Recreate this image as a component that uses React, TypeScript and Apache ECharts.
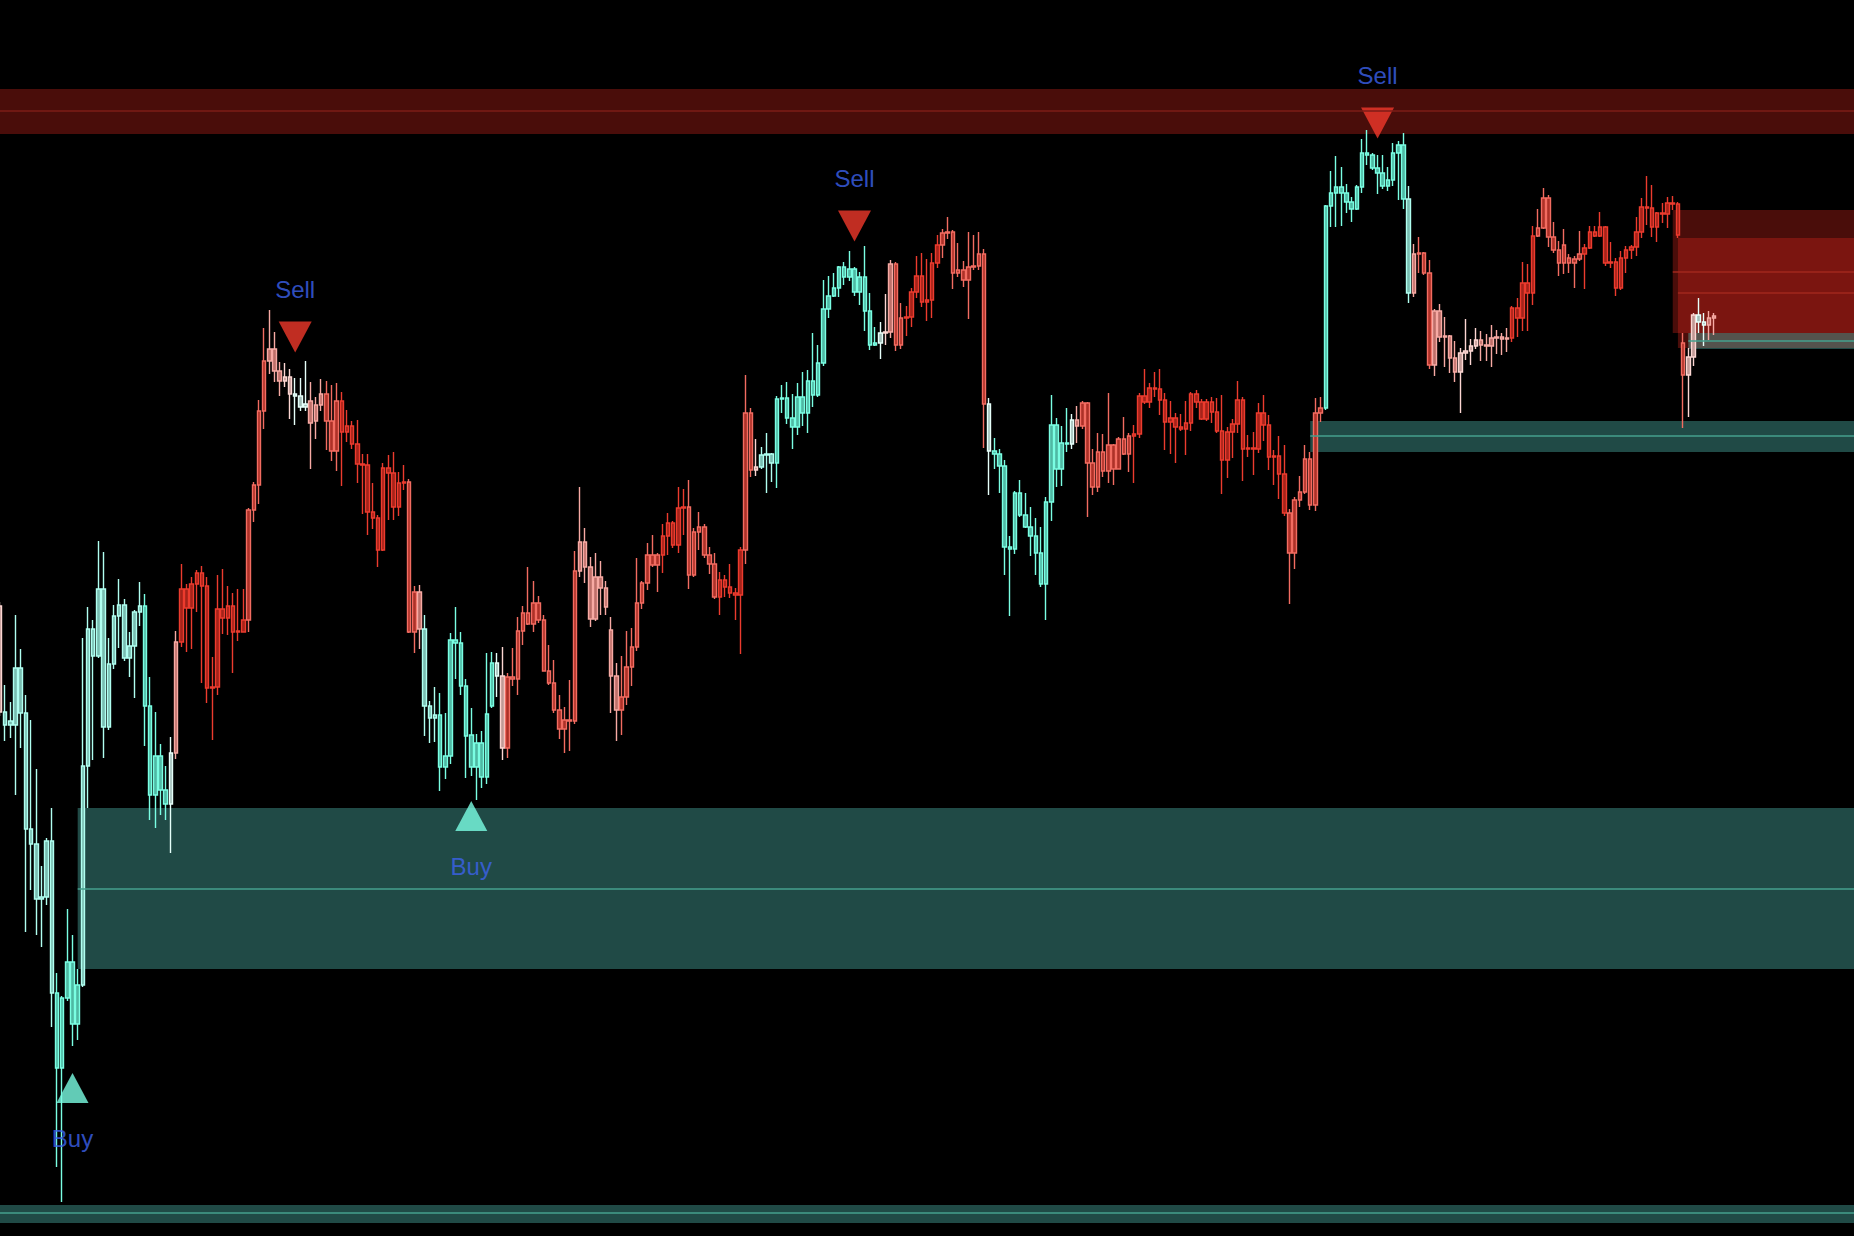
import React, { useEffect, useRef } from "react";
import * as echarts from "echarts";

// Each candle: [open, close, low, high]
const candles: number[][] = [
  [4630, 4524, 4520, 4634], [4524, 4511, 4495, 4551], [4511, 4515, 4498, 4534], [4511, 4568, 4441, 4621],
  [4568, 4523, 4488, 4587], [4523, 4407, 4304, 4541], [4407, 4392, 4346, 4516], [4392, 4337, 4301, 4467],
  [4337, 4339, 4289, 4370], [4339, 4395, 4331, 4398], [4395, 4243, 4209, 4428], [4243, 4168, 4069, 4263],
  [4168, 4238, 4034, 4240], [4238, 4274, 4235, 4327], [4274, 4212, 4190, 4301], [4212, 4251, 4196, 4267],
  [4251, 4470, 4249, 4598], [4470, 4607, 4428, 4629], [4607, 4580, 4476, 4616], [4580, 4647, 4578, 4695],
  [4647, 4509, 4478, 4684], [4509, 4572, 4506, 4598], [4572, 4620, 4567, 4631], [4620, 4631, 4588, 4657],
  [4631, 4578, 4575, 4637], [4578, 4590, 4559, 4604], [4590, 4624, 4538, 4626], [4624, 4630, 4610, 4654],
  [4630, 4530, 4490, 4642], [4530, 4441, 4416, 4559], [4441, 4480, 4408, 4524], [4480, 4446, 4421, 4492],
  [4446, 4432, 4416, 4470], [4432, 4483, 4383, 4499], [4483, 4594, 4477, 4605], [4594, 4647, 4589, 4672],
  [4647, 4628, 4584, 4652], [4628, 4652, 4587, 4659], [4652, 4663, 4624, 4666], [4663, 4650, 4553, 4670],
  [4650, 4548, 4533, 4659], [4548, 4549, 4496, 4579], [4549, 4627, 4541, 4661], [4627, 4618, 4602, 4667],
  [4618, 4630, 4601, 4650], [4630, 4604, 4563, 4643], [4604, 4605, 4595, 4647],
  [4604, 4616, 4604, 4647], [4616, 4726, 4604, 4728], [4726, 4751, 4714, 4754], [4751, 4825, 4732, 4836],
  [4825, 4875, 4807, 4908], [4875, 4887, 4862, 4926], [4887, 4865, 4854, 4904], [4865, 4855, 4840, 4874],
  [4855, 4859, 4849, 4873], [4859, 4842, 4817, 4867], [4842, 4840, 4811, 4858], [4840, 4829, 4825, 4858],
  [4829, 4832, 4825, 4875], [4813, 4835, 4767, 4854], [4815, 4831, 4797, 4839], [4831, 4842, 4825, 4857],
  [4842, 4815, 4786, 4855], [4815, 4785, 4775, 4851], [4785, 4835, 4765, 4853], [4835, 4804, 4750, 4844],
  [4804, 4810, 4794, 4826], [4810, 4792, 4787, 4815], [4792, 4772, 4753, 4816], [4772, 4771, 4722, 4782],
  [4771, 4724, 4701, 4782], [4724, 4718, 4707, 4753], [4718, 4686, 4669, 4721], [4686, 4768, 4685, 4773],
  [4768, 4763, 4716, 4781], [4763, 4729, 4716, 4784], [4729, 4753, 4720, 4764], [4753, 4754, 4746, 4771],
  [4754, 4604, 4603, 4757], [4604, 4644, 4583, 4650], [4644, 4607, 4587, 4651], [4607, 4530, 4500, 4621],
  [4530, 4518, 4493, 4535], [4518, 4521, 4494, 4549], [4521, 4469, 4445, 4543], [4469, 4480, 4457, 4523],
  [4480, 4596, 4472, 4603], [4596, 4593, 4557, 4629], [4593, 4550, 4541, 4604], [4550, 4500, 4458, 4557],
  [4501, 4469, 4460, 4528], [4469, 4493, 4436, 4502], [4493, 4459, 4448, 4505], [4459, 4522, 4452, 4583],
  [4530, 4573, 4528, 4584], [4573, 4560, 4539, 4583], [4560, 4488, 4476, 4589], [4488, 4559, 4478, 4563],
  [4559, 4557, 4550, 4588], [4557, 4605, 4541, 4619], [4605, 4623, 4591, 4630], [4623, 4612, 4611, 4669],
  [4612, 4633, 4604, 4655], [4633, 4616, 4613, 4640], [4616, 4565, 4565, 4621], [4565, 4553, 4551, 4591],
  [4553, 4526, 4523, 4576], [4526, 4507, 4497, 4541], [4507, 4516, 4483, 4529], [4516, 4515, 4485, 4556],
  [4515, 4665, 4512, 4685], [4665, 4694, 4659, 4749], [4694, 4669, 4653, 4708], [4669, 4617, 4609, 4679],
  [4617, 4659, 4615, 4683], [4659, 4648, 4621, 4675], [4648, 4629, 4621, 4655], [4606, 4560, 4523, 4619],
  [4560, 4526, 4495, 4573], [4526, 4539, 4501, 4580], [4539, 4569, 4531, 4605], [4569, 4589, 4550, 4608],
  [4589, 4633, 4585, 4678], [4633, 4653, 4627, 4655], [4653, 4681, 4646, 4693], [4681, 4671, 4669, 4701],
  [4671, 4681, 4644, 4683], [4681, 4700, 4663, 4712], [4700, 4713, 4681, 4723], [4713, 4691, 4688, 4715],
  [4691, 4728, 4683, 4749], [4728, 4729, 4701, 4747], [4729, 4661, 4647, 4756], [4661, 4704, 4659, 4708],
  [4704, 4709, 4686, 4724], [4709, 4681, 4678, 4712], [4681, 4672, 4662, 4689], [4672, 4639, 4637, 4683],
  [4639, 4656, 4621, 4664], [4656, 4649, 4639, 4661], [4649, 4643, 4638, 4672], [4643, 4641, 4616, 4648],
  [4641, 4686, 4582, 4689], [4686, 4823, 4672, 4861], [4823, 4766, 4759, 4828], [4766, 4769, 4760, 4797],
  [4769, 4781, 4767, 4789], [4781, 4782, 4743, 4803], [4782, 4773, 4754, 4783], [4773, 4837, 4748, 4840],
  [4837, 4838, 4823, 4851], [4838, 4818, 4812, 4854], [4818, 4809, 4787, 4842], [4809, 4839, 4801, 4853],
  [4839, 4823, 4810, 4864], [4823, 4855, 4803, 4866], [4855, 4841, 4829, 4903], [4841, 4873, 4839, 4891],
  [4873, 4927, 4870, 4956], [4927, 4940, 4918, 4960], [4940, 4948, 4939, 4963], [4948, 4969, 4939, 4970],
  [4969, 4959, 4951, 4974], [4959, 4967, 4955, 4985], [4967, 4944, 4940, 4969], [4944, 4959, 4931, 4964],
  [4959, 4925, 4905, 4990], [4925, 4891, 4886, 4943], [4891, 4893, 4890, 4909], [4893, 4903, 4877, 4914],
  [4903, 4904, 4891, 4942], [4904, 4972, 4898, 4976], [4972, 4891, 4885, 4974], [4891, 4918, 4887, 4933],
  [4918, 4919, 4900, 4930], [4919, 4944, 4909, 4948], [4944, 4960, 4938, 4980], [4960, 4934, 4929, 4983],
  [4934, 4936, 4915, 4977], [4936, 4973, 4918, 4983], [4973, 4991, 4968, 5001], [4991, 5003, 4978, 5007],
  [5003, 5004, 4997, 5019], [5004, 4963, 4947, 5006], [4963, 4966, 4959, 4993], [4966, 4956, 4949, 4975],
  [4956, 4969, 4917, 5004], [4969, 4970, 4966, 5001], [4970, 4982, 4966, 5004], [4982, 4832, 4788, 4987],
  [4832, 4785, 4741, 4838], [4785, 4782, 4767, 4798], [4782, 4770, 4743, 4787], [4770, 4689, 4661, 4776],
  [4689, 4687, 4620, 4700], [4687, 4743, 4682, 4745], [4743, 4721, 4719, 4756], [4721, 4709, 4708, 4743],
  [4709, 4700, 4680, 4729], [4700, 4683, 4661, 4718], [4683, 4652, 4649, 4709], [4652, 4734, 4616, 4739],
  [4734, 4811, 4715, 4841], [4811, 4767, 4749, 4818], [4767, 4793, 4750, 4810], [4793, 4792, 4784, 4828],
  [4792, 4816, 4787, 4822], [4816, 4810, 4793, 4830], [4810, 4833, 4807, 4835], [4833, 4773, 4719, 4834],
  [4773, 4749, 4741, 4787], [4749, 4784, 4744, 4803], [4784, 4765, 4759, 4802], [4765, 4791, 4753, 4843],
  [4791, 4767, 4751, 4792], [4767, 4797, 4767, 4799], [4797, 4782, 4781, 4819], [4782, 4800, 4764, 4803],
  [4800, 4802, 4753, 4811], [4802, 4840, 4798, 4843], [4840, 4834, 4832, 4867], [4834, 4848, 4828, 4853],
  [4848, 4847, 4839, 4864],
  [4847, 4836, 4821, 4867], [4836, 4814, 4786, 4843], [4814, 4818, 4782, 4835], [4818, 4809, 4773, 4823],
  [4809, 4807, 4805, 4822], [4807, 4813, 4781, 4835], [4813, 4842, 4805, 4844], [4842, 4834, 4828, 4846],
  [4834, 4817, 4816, 4837], [4817, 4834, 4815, 4837], [4834, 4824, 4813, 4839], [4824, 4805, 4803, 4838],
  [4805, 4776, 4742, 4841], [4776, 4804, 4758, 4809], [4804, 4812, 4778, 4817], [4812, 4836, 4803, 4855],
  [4836, 4787, 4755, 4839], [4787, 4788, 4779, 4801], [4788, 4787, 4761, 4804], [4787, 4823, 4783, 4833],
  [4823, 4811, 4795, 4841], [4811, 4779, 4766, 4821], [4779, 4780, 4751, 4786], [4780, 4762, 4737, 4800],
  [4762, 4723, 4720, 4791], [4723, 4683, 4632, 4727], [4683, 4736, 4667, 4739], [4736, 4744, 4729, 4760],
  [4744, 4777, 4742, 4791], [4777, 4731, 4726, 4784], [4731, 4823, 4725, 4838], [4823, 4828, 4814, 4839],
  [4828, 5030, 4826, 5031],
  [5030, 5043, 5009, 5065], [5043, 5049, 5009, 5080], [5049, 5043, 5010, 5069], [5043, 5034, 5023, 5052],
  [5034, 5027, 5014, 5039], [5027, 5049, 5026, 5051], [5049, 5083, 5043, 5097], [5083, 5081, 5071, 5106],
  [5081, 5068, 5066, 5083], [5068, 5063, 5042, 5081], [5063, 5050, 5047, 5081], [5050, 5056, 5045, 5069],
  [5056, 5083, 5050, 5093], [5083, 5091, 5036, 5095], [5091, 5037, 5027, 5103], [5037, 4943, 4933, 5050],
  [4943, 4982, 4939, 4992], [4982, 4983, 4963, 4999], [4983, 4963, 4961, 4984], [4963, 4871, 4867, 4976],
  [4871, 4925, 4860, 4927], [4925, 4899, 4894, 4932], [4899, 4900, 4869, 4919], [4900, 4878, 4863, 4901],
  [4878, 4864, 4854, 4895], [4864, 4883, 4823, 4888], [4883, 4885, 4876, 4917], [4885, 4890, 4871, 4897],
  [4890, 4896, 4887, 4908], [4896, 4891, 4875, 4905], [4891, 4890, 4875, 4902], [4890, 4898, 4869, 4911],
  [4898, 4899, 4882, 4906], [4899, 4897, 4881, 4903], [4897, 4898, 4884, 4908], [4898, 4928, 4894, 4930],
  [4928, 4918, 4899, 4938], [4918, 4953, 4905, 4974], [4953, 4943, 4905, 4972], [4943, 5000, 4931, 5010],
  [5000, 5008, 4999, 5027], [5008, 5038, 5007, 5048], [5038, 4999, 4989, 5041], [4999, 4986, 4983, 5014],
  [4986, 4973, 4960, 4995], [4973, 4991, 4962, 5007], [4978, 4973, 4963, 4982], [4973, 4977, 4948, 4980],
  [4977, 4982, 4975, 5005], [4982, 4988, 4947, 4992], [4988, 5004, 4987, 5010], [5004, 5000, 4999, 5010],
  [5000, 5009, 4999, 5024], [5009, 4973, 4970, 5010], [4973, 4974, 4968, 4994], [4974, 4948, 4940, 4978],
  [4948, 4978, 4946, 4985], [4978, 4986, 4963, 4990], [4986, 4989, 4977, 4991], [4989, 5004, 4980, 5019],
  [5004, 5029, 4998, 5038], [5029, 5028, 5011, 5060], [5028, 5009, 4999, 5051], [5009, 5023, 4994, 5024],
  [5023, 5022, 5013, 5033], [5022, 5033, 5008, 5039], [5033, 5032, 5026, 5040], [5032, 5001, 4998, 5034],
  [4893, 4861, 4808, 4903], [4861, 4879, 4819, 4888], [4879, 4921, 4870, 4923], [4921, 4914, 4903, 4938],
  [4914, 4911, 4890, 4923], [4911, 4918, 4896, 4925], [4918, 4920, 4901, 4923],
];

// Colour tone of each run of candles: [firstIndex, lastIndex, tone]
const toneRanges: number[][] = [
  [0, 0, 3], [1, 10, 1], [11, 15, 0], [16, 27, 1], [28, 32, 0], [33, 33, 2], [34, 34, 4],
  [35, 47, 6], [48, 51, 5], [52, 54, 4], [55, 56, 3], [57, 59, 2], [60, 62, 4], [63, 65, 5],
  [66, 78, 6], [79, 80, 5], [81, 81, 4], [82, 84, 1], [85, 95, 0], [96, 96, 2], [97, 97, 3],
  [98, 111, 5], [112, 119, 4], [120, 127, 5], [128, 132, 6], [133, 138, 5], [139, 143, 6],
  [144, 145, 5], [146, 146, 3], [147, 149, 1], [150, 169, 0], [170, 170, 2], [171, 171, 3],
  [172, 172, 4], [173, 174, 5], [175, 181, 6], [182, 190, 5], [191, 191, 2], [192, 206, 0],
  [207, 207, 2], [208, 208, 4], [209, 218, 5], [219, 248, 6], [249, 255, 5], [256, 271, 0],
  [272, 272, 1], [273, 273, 4], [274, 276, 5], [277, 281, 4], [282, 285, 3], [286, 291, 4],
  [292, 296, 6], [297, 305, 5], [306, 324, 6], [325, 325, 5], [326, 327, 3], [328, 329, 2],
  [330, 331, 4],
];

const tonePalette = ["#7afee3", "#b0fff1", "#e6fffa", "#fcd6d2", "#f7aaa4", "#f26c61", "#ec3b2e"];
const toneInner = ["#4fb8a3", "#78bcb0", "#a2bdb8", "#c09a96", "#bd6f69", "#ad3128", "#a5231a"];

const buySignals = [
  { index: 14, price: 4148 },
  { index: 91, price: 4420 },
];
const sellSignals = [
  { index: 57, price: 4899 },
  { index: 165, price: 5010 },
  { index: 266, price: 5113 },
];

// Supply / demand zones, drawn from a starting candle to the right edge
const zones = [
  { start: 0, high: 5147, low: 5102, mid: 5125, side: "supply" },
  { start: 0, high: 4031, low: 4013, mid: 4023, side: "demand" },
  { start: 15, high: 4428, low: 4267, mid: 4347, side: "demand" },
  { start: 253, high: 4815, low: 4784, mid: 4800, side: "demand" },
  { start: 323, high: 5026, low: 4903, mid: 4964, side: "supply" },
  { start: 324, high: 4998, low: 4888, mid: 4943, side: "supply" },
  { start: 326, high: 4903, low: 4887, mid: 4895, side: "demand" },
];

const SLOT_COUNT = 359;
const PRICE_MIN = 4000;
const PRICE_MAX = 5236;

function toneOf(i: number): number {
  for (const r of toneRanges) {
    if (i >= r[0] && i <= r[1]) return r[2];
  }
  return 6;
}

export default function App() {
  const ref = useRef<HTMLDivElement>(null);

  useEffect(() => {
    document.body.style.margin = "0";
    document.body.style.background = "#000";
    if (!ref.current) return;
    const chart = echarts.init(ref.current, undefined, { renderer: "svg" });

    const categories = Array.from({ length: SLOT_COUNT }, (_, i) => String(i));
    const lastCat = categories[SLOT_COUNT - 1];

    const candleData = candles.map((c, i) => {
      const t = toneOf(i);
      return {
        value: c,
        itemStyle: {
          color: toneInner[t],
          color0: tonePalette[t],
          borderColor: tonePalette[t],
          borderColor0: tonePalette[t],
        },
      };
    });

    const supplyFill = "rgba(226,40,30,0.33)";
    const demandFill = "rgba(110,255,240,0.29)";

    const areaData = zones.map((z) => [
      {
        xAxis: categories[z.start],
        yAxis: z.high,
        itemStyle: { color: z.side === "supply" ? supplyFill : demandFill },
      },
      { xAxis: lastCat, yAxis: z.low },
    ]);

    const lineData = zones.map((z) => [
      {
        coord: [categories[z.start], z.mid],
        lineStyle: {
          color: z.side === "supply" ? (z.start === 0 ? "#7e1d17" : "#a0271d") : "#45a08e",
          width: 1.5,
          type: "solid",
        },
      },
      { coord: [lastCat, z.mid] },
    ]);

    const labelFont = "'Liberation Sans', Arial, sans-serif";

    chart.setOption({
      animation: false,
      backgroundColor: "#000000",
      grid: { left: 0, right: 0, top: 0, bottom: 0, containLabel: false },
      xAxis: {
        type: "category",
        data: categories,
        boundaryGap: false,
        show: false,
      },
      yAxis: {
        type: "value",
        min: PRICE_MIN,
        max: PRICE_MAX,
        show: false,
        splitLine: { show: false },
      },
      series: [
        {
          name: "zones",
          type: "line",
          data: [],
          z: 1,
          silent: true,
          markArea: { silent: true, data: areaData },
          markLine: {
            silent: true,
            symbol: ["none", "none"],
            label: { show: false },
            data: lineData,
          },
        },
        {
          name: "price",
          type: "candlestick",
          z: 2,
          barWidth: 4,
          data: candleData,
          itemStyle: { borderWidth: 1.4 },
        },
        {
          name: "buy",
          type: "scatter",
          z: 3,
          symbol: "triangle",
          symbolSize: [32, 30],
          itemStyle: { color: "#7afee3" },
          label: {
            show: true,
            position: "bottom",
            distance: 23,
            formatter: "Buy",
            color: "#3d63f0",
            fontSize: 24,
            fontFamily: labelFont,
          },
          data: buySignals.map((s) => [categories[s.index], s.price]),
        },
        {
          name: "sell",
          type: "scatter",
          z: 3,
          symbol: "path://M0,0 L32,0 L16,30 Z",
          symbolSize: [33, 31],
          itemStyle: { color: "#f0382b" },
          label: {
            show: true,
            position: "top",
            distance: 20,
            formatter: "Sell",
            color: "#3d63f0",
            fontSize: 24,
            fontFamily: labelFont,
          },
          data: sellSignals.map((s) => [categories[s.index], s.price]),
        },
      ],
    });

    return () => {
      chart.dispose();
    };
  }, []);

  return <div ref={ref} style={{ width: 1854, height: 1236 }} />;
}
